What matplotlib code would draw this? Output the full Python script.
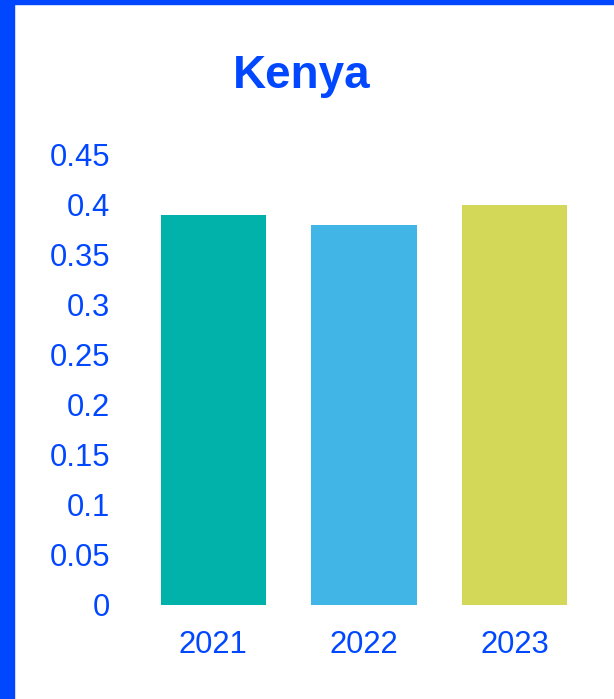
import matplotlib
matplotlib.use("Agg")
import matplotlib.pyplot as plt
from matplotlib.patches import Rectangle

title = "Kenya"
years = ["2021", "2022", "2023"]
values = [0.39, 0.38, 0.40]
colors = ["#00B2A9", "#41B6E6", "#D4D858"]
yticks = [0, 0.05, 0.1, 0.15, 0.2, 0.25, 0.3, 0.35, 0.4, 0.45]
ytick_labels = ["0", "0.05", "0.1", "0.15", "0.2", "0.25", "0.3", "0.35", "0.4", "0.45"]

BLUE = "#0047FF"
W, H = 614, 699
fig = plt.figure(figsize=(W / 100, H / 100), dpi=100)
plt.rcParams['font.family'] = ['Liberation Sans', 'DejaVu Sans']

# borders
fig.patches.append(Rectangle((0, 0), 14 / W, 1, transform=fig.transFigure, color=BLUE, zorder=0))
fig.patches.append(Rectangle((0, 1 - 4 / H), 1, 4 / H, transform=fig.transFigure, color=BLUE, zorder=0))

ax = fig.add_axes([138 / W, (H - 605) / H, (590 - 138) / W, (605 - 155) / H])
x = range(len(years))
ax.bar(x, values, width=0.70, color=colors)
ax.set_xlim(-0.5, 2.5)
ax.set_ylim(0, 0.45)
ax.set_yticks(yticks)
ax.set_yticklabels(ytick_labels)
ax.set_xticks(list(x))
ax.set_xticklabels(years)
for s in ax.spines.values():
    s.set_visible(False)
ax.tick_params(axis='y', length=0, pad=20, labelsize=22.3, labelcolor=BLUE)
ax.tick_params(axis='x', length=0, pad=18, labelsize=22.3, labelcolor=BLUE)

fig.text(302 / W, 1 - 76 / H, title, ha='center', va='center', fontsize=33,
         fontweight='bold', color=BLUE)

fig.savefig("out.png", dpi=100)
